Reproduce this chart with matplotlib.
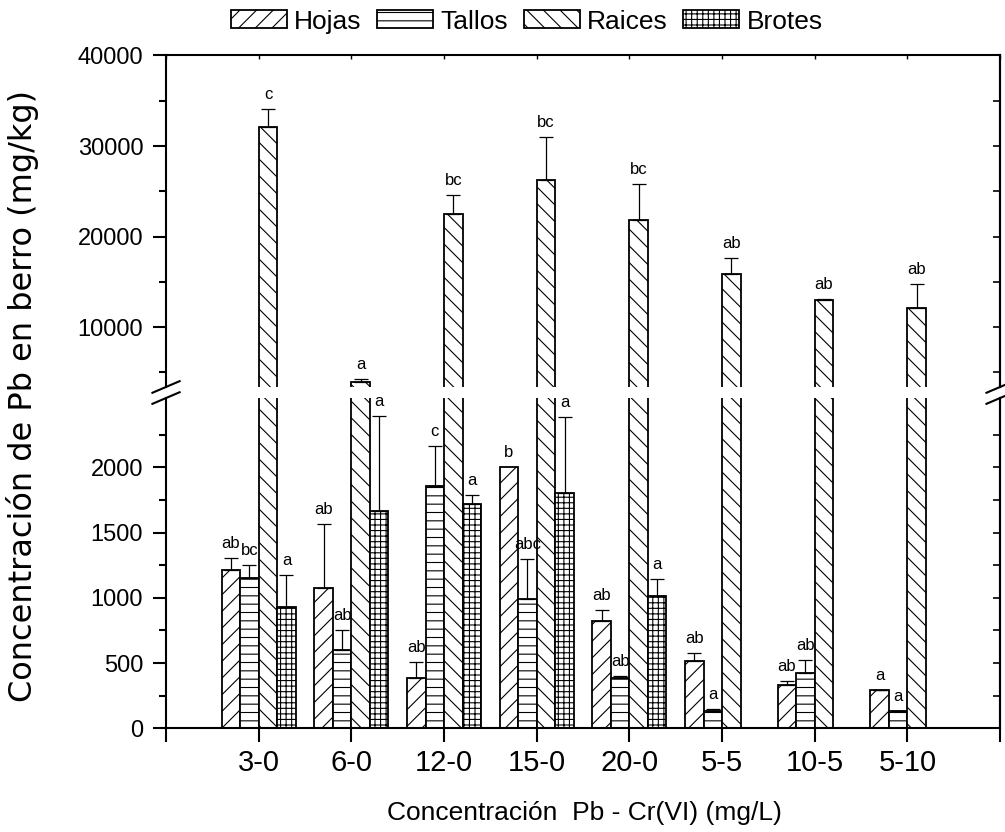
import numpy as np
import matplotlib
matplotlib.use("Agg")
import matplotlib.pyplot as plt
from matplotlib.lines import Line2D
from matplotlib.ticker import FixedLocator, MultipleLocator

plt.rcParams['font.family'] = ['Liberation Sans', 'DejaVu Sans']
plt.rcParams['hatch.linewidth'] = 0.8
plt.rcParams['hatch.color'] = 'black'

# Tratamientos Pb - Cr(VI) en mg/L
tratamientos = ['3-0', '6-0', '12-0', '15-0', '20-0', '5-5', '10-5', '5-10']

# Concentración de Pb (mg/kg) por órgano, con su desviación
hojas = [1210, 1075, 383, 2000, 820, 513, 335, 291]
hojas_err = [95, 490, 123, 0, 87, 64, 30, 4]
hojas_letras = ['ab', 'ab', 'ab', 'b', 'ab', 'ab', 'ab', 'a']

tallos = [1150, 598, 1857, 988, 388, 133, 427, 130]
tallos_err = [100, 159, 306, 309, 16, 15, 99, 3]
tallos_letras = ['bc', 'ab', 'c', 'abc', 'ab', 'a', 'ab', 'a']

raices = [32100, 3960, 22500, 26250, 21880, 15880, 13010, 12130]
raices_err = [1950, 300, 2100, 4750, 3900, 1800, 60, 2620]
raices_letras = ['c', 'a', 'bc', 'bc', 'bc', 'ab', 'ab', 'ab']

brotes = [932, 1663, 1719, 1803, 1011, 0, 0, 0]
brotes_err = [243, 733, 69, 585, 133, 0, 0, 0]
brotes_letras = ['a', 'a', 'a', 'a', 'a', '', '', '']

series = [
    ('Hojas', hojas, hojas_err, hojas_letras, '//'),
    ('Tallos', tallos, tallos_err, tallos_letras, '--'),
    ('Raices', raices, raices_err, raices_letras, '\\\\'),
    ('Brotes', brotes, brotes_err, brotes_letras, '+++'),
]

# límites del eje quebrado
lim_sup = (3400, 40000)
lim_inf = (0, 2530)

fig = plt.figure(figsize=(10.05, 8.32), dpi=100)
ax_up = fig.add_axes([0.1652, 0.5349, 0.8299, 0.3984])
ax_lo = fig.add_axes([0.1652, 0.1246, 0.8299, 0.3970])

x = np.arange(len(tratamientos))
ancho = 0.2
handles = []
for k, (nombre, vals, errs, letras, hatch) in enumerate(series):
    pos = x + (k - 1.5) * ancho
    vals = np.array(vals, dtype=float)
    errs = np.array(errs, dtype=float)
    con_err = errs > 0
    for ax in (ax_up, ax_lo):
        b = ax.bar(pos, vals, ancho, facecolor='white', edgecolor='black',
                   hatch=hatch, linewidth=1.3, label=nombre)
        ax.errorbar(pos[con_err], vals[con_err],
                    yerr=[np.zeros(con_err.sum()), errs[con_err]],
                    fmt='none', ecolor='black', elinewidth=0.9,
                    capsize=4.7, capthick=0.9)
    handles.append(b)
    for p, v, e, t in zip(pos, vals, errs, letras):
        if not t:
            continue
        ax = ax_up if v + e > lim_sup[0] else ax_lo
        ax.annotate(t, (p, v + e), xytext=(0, 5), textcoords='offset points',
                    ha='center', va='bottom', fontsize=12)

for ax in (ax_up, ax_lo):
    ax.set_xlim(-1, 8)
    for s in ax.spines.values():
        s.set_linewidth(1.5)
    ax.xaxis.set_major_locator(FixedLocator(np.arange(-1, 9)))
    ax.tick_params(axis='y', which='major', direction='out', length=9.4,
                   width=1.5, labelsize=17, pad=7, right=False)
    ax.tick_params(axis='y', which='minor', direction='out', length=5,
                   width=1.5, right=False)
    der = ax.secondary_yaxis('right')
    der.spines['right'].set_linewidth(1.5)
    der.tick_params(axis='y', which='both', direction='in', length=5,
                    width=1.2, labelright=False)

ax_up.set_ylim(*lim_sup)
ax_up.spines['bottom'].set_visible(False)
ax_up.yaxis.set_major_locator(MultipleLocator(10000))
ax_up.yaxis.set_minor_locator(FixedLocator([5000, 15000, 25000, 35000]))
ax_up.tick_params(axis='x', bottom=False, labelbottom=False, top=True,
                  direction='in', length=3, width=1)

ax_lo.set_ylim(*lim_inf)
ax_lo.spines['top'].set_visible(False)
ax_lo.yaxis.set_major_locator(FixedLocator([0, 500, 1000, 1500, 2000]))
ax_lo.yaxis.set_minor_locator(FixedLocator([250, 750, 1250, 1750, 2250]))
ax_lo.set_xticklabels([''] + tratamientos + [''])
ax_lo.tick_params(axis='x', direction='out', length=10, width=1.5,
                  labelsize=21, pad=5)

for ax in (ax_up, ax_lo):
    for der in ax.child_axes:
        der.set_yticks(ax.get_yticks(), labels=[])
        der.yaxis.set_minor_locator(FixedLocator(ax.yaxis.get_minorticklocs()))

# marcas de corte en ambos ejes verticales
W, H = fig.get_size_inches() * fig.dpi
pu = ax_up.get_position()
pl = ax_lo.get_position()
dx, dy = 13.6 / W, 5.8 / H
for xs in (pl.x0, pl.x1):
    for ys in (pu.y0, pl.y1):
        fig.add_artist(Line2D([xs - dx, xs + dx], [ys - dy, ys + dy],
                              color='black', lw=1.5))

fig.legend(handles, [s[0] for s in series], loc='center',
           bbox_to_anchor=(0.524, 0.974), ncol=4, frameon=False, fontsize=19,
           handlelength=2.12, handleheight=0.68, handletextpad=0.27,
           columnspacing=0.6, borderpad=0, borderaxespad=0)

fig.text(23 / W, 1 - 396 / H, 'Concentración de Pb en berro (mg/kg)',
         rotation=90, ha='center', va='center', fontsize=23,
         family=['DejaVu Sans'])
fig.text(584 / W, 1 - 813 / H, 'Concentración  Pb - Cr(VI) (mg/L)',
         ha='center', va='center', fontsize=19)

fig.savefig('out.png', dpi=100)
